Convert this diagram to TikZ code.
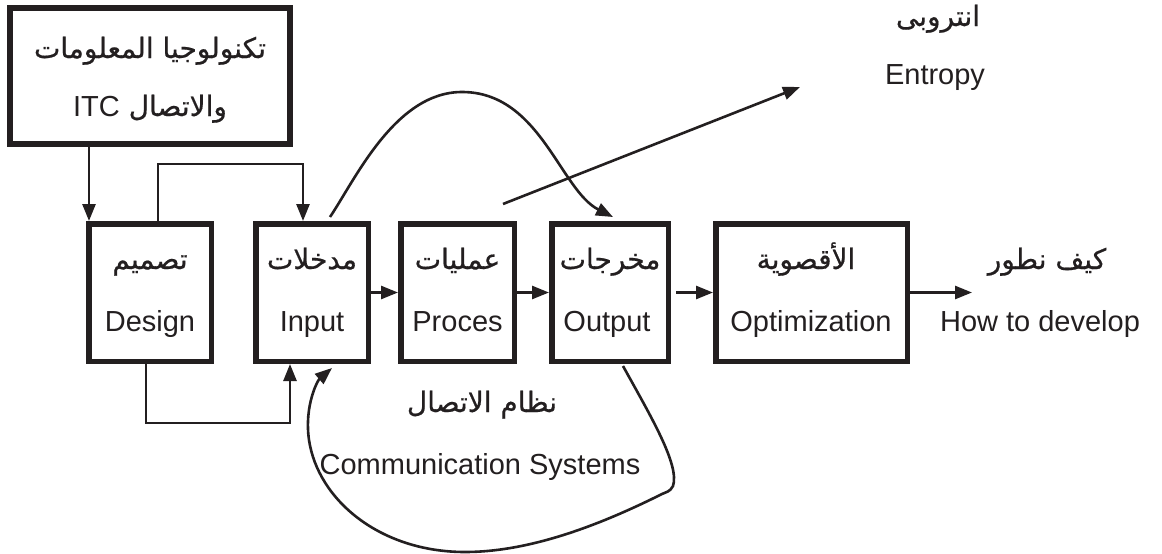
\documentclass[tikz,border=0pt]{standalone}
\usepackage{fontspec}
\setmainfont{Liberation Sans}
\newfontfamily\arabicfont[Script=Arabic,FakeBold=0.6]{DejaVu Sans}
\TeXXeTstate=1
\usetikzlibrary{arrows.meta,calc}
\definecolor{ink}{RGB}{35,31,32}
\begin{document}
\begin{tikzpicture}[x=1pt,y=-1pt,
  box/.style={draw=ink, line width=5.5pt, minimum width=#1, minimum height=137.5pt, inner sep=0pt},
  en/.style={font=\fontsize{29}{34}\selectfont, text=ink, anchor=base, inner sep=0pt},
  ar/.style={font=\arabicfont\fontsize{28}{32}\selectfont, text=ink, anchor=base, inner sep=0pt},
  conn/.style={draw=ink, line width=2.6pt, -{Triangle[length=17pt,width=13pt]}}]
\fill[white] (0,0) rectangle (1162,554);
\useasboundingbox (0,0) rectangle (1162,554);

% boxes
\node[draw=ink, line width=6pt, minimum width=280pt, minimum height=136pt, inner sep=0pt] (itc) at (150,76) {};
\node[box=122.5pt] (design) at (150,292.5) {};
\node[box=112.5pt] (input)  at (312,292.5) {};
\node[box=113.5pt] (proces) at (457.5,292.5) {};
\node[box=116.5pt] (output) at (610,292.5) {};
\node[box=191.5pt] (opt)    at (811.5,292.5) {};

% texts
\node[ar] (itcA) at (150,58) {\beginR تكنولوجيا المعلومات\endR};
\node[ar] (itcB) at (150,116) {\beginR والاتصال {\rmfamily\fontsize{29}{34}\selectfont\beginL ITC\endL}\endR};
\node[ar] (designA) at (150,269) {\beginR تصميم\endR};
\node[en] (designE) at (150,331) {Design};
\node[ar] (inputA) at (312,269) {\beginR مدخلات\endR};
\node[en] (inputE) at (312,331) {Input};
\node[ar] (procesA) at (457.5,269) {\beginR عمليات\endR};
\node[en] (procesE) at (457.5,331) {Proces};
\node[ar] (outputA) at (610,269) {\beginR مخرجات\endR};
\node[en] (outputE) at (607,331) {Output};
\node[ar] (optA) at (806,269) {\beginR الأقصوية\endR};
\node[en] (optE) at (811,331) {Optimization};
\node[ar] (devA) at (1047,269) {\beginR كيف نطور\endR};
\node[en] (devE) at (1040,331) {How to develop};
\node[ar] (entA) at (938,26) {\beginR انتروبى\endR};
\node[en] (entE) at (935,84) {Entropy};
\node[ar] (comA) at (482,412) {\beginR نظام الاتصال\endR};
\node[en] (comE) at (480,474) {Communication Systems};

% connectors
\draw[conn] ($(itc.south)+(-61,0)$) -- ($(design.north)+(-61,0)$);
\draw[conn] ($(design.north)+(8,0)$) |- ($(input.north)+(-9,-57)$) -- ($(input.north)+(-9,0)$);
\draw[conn] ($(design.south)+(-4,0)$) |- ($(input.south)+(-22,59)$) -- ($(input.south)+(-22,0)$);
\draw[conn] (input.east) -- (proces.west);
\draw[conn] (proces.east) -- (output.west);
\draw[conn] ($(output.east)+(5,0)$) -- (opt.west);
\coordinate (devtip) at (972,292.5);
\draw[conn] (opt.east) -- (devtip);
\coordinate (entS) at (503,204);
\coordinate (entT) at (800,87);
\draw[conn] (entS) -- (entT);
\draw[conn] ($(input.north)+(18,-4)$) .. controls (355,180) and (395,92) .. (462,92)
  .. controls (540,92) and (560,190) .. ($(output.north)+(3,-4)$);
\draw[conn] ($(output.south)+(13,2)$) .. controls (650,415) and (680,465) .. (673,486)
  .. controls (670,492) and (666,492) .. (662,494)
  .. controls (600,525) and (530,552) .. (465,552)
  .. controls (380,552) and (318,500) .. (309,440)
  .. controls (304,405) and (318,380) .. ($(input.south)+(20,4)$);
\end{tikzpicture}
\end{document}
